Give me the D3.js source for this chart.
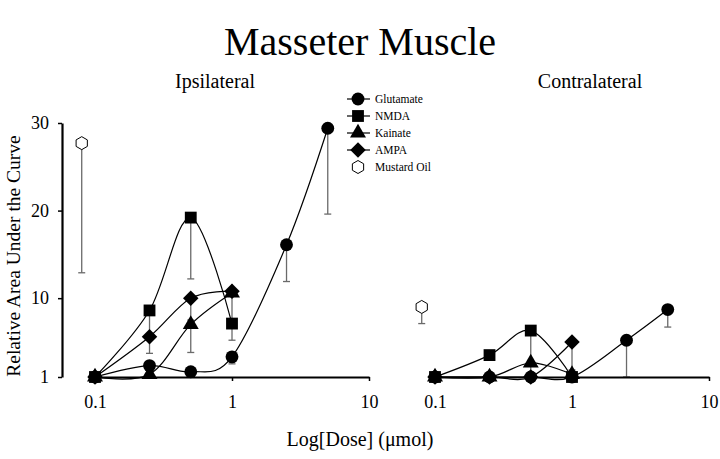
<!DOCTYPE html>
<html>
<head>
<meta charset="utf-8">
<script src="https://cdn.jsdelivr.net/npm/d3@7"></script>
<style>
  body { margin: 0; background: #fff; }
  svg { display: block; font-family: "Liberation Serif", "Times New Roman", serif; }
</style>
</head>
<body>
<svg width="720" height="459"></svg>
<script>
// doses (µmol)
const doses = [0.1, 0.25, 0.5, 1, 2.5, 5];
const oilDose = 0.08;

// ipsilateral means and lower error ends
const glutIpsi = [1, 2.3, 1.6, 3.3, 16.1, 29.4];
const glutIpsiLow = [null, null, null, 2.5, 11.9, 19.6];
const nmdaIpsi = [1, 8.6, 19.2, 7.1];
const nmdaIpsiLow = [null, 5.8, 12.2, 5.2];
const kainIpsi = [1, 1.3, 7.0, 10.6];
const kainIpsiLow = [null, null, 3.8, 7.1];
const ampaIpsi = [1, 5.6, 10.0, 10.8];
const ampaIpsiLow = [null, 3.7, 7.5, null];
const oilIpsi = 27.7, oilIpsiLow = 12.9;

// contralateral
const glutContra = [1, 1, 1, 1, 5.2, 8.7];
const glutContraLow = [null, null, null, null, 1, 6.7];
const nmdaContra = [1, 3.5, 6.3, 1];
const nmdaContraLow = [null, null, 2.5, null];
const kainContra = [1, 1, 2.6, 1.3];
const kainContraLow = [null, null, 1, null];
const ampaContra = [1, 1, 1, 5.0];
const ampaContraLow = [null, null, null, 1.8];
const oilContra = 9.0, oilContraLow = 7.1;

const yTicks = [1, 10, 20, 30];
const xTicks = [0.1, 1, 10];
const legendNames = ["Glutamate", "NMDA", "Kainate", "AMPA", "Mustard Oil"];

const svg = d3.select("svg");

const y = d3.scaleLinear().domain([1, 30]).range([377, 123]);
const xL = d3.scaleLog().domain([0.1, 10]).range([95, 369]);
const xR = d3.scaleLog().domain([0.1, 10]).range([435, 709]);

// marker shapes
const shapes = {
  circle: d3.symbol(d3.symbolCircle, 130),
  square: d3.symbol(d3.symbolSquare, 140),
  triangle: d3.symbol(d3.symbolTriangle, 110),
  diamond: d3.symbol(d3.symbolSquare, 120)
};
function hexPath(r) {
  const pts = d3.range(6).map(i => {
    const a = Math.PI / 6 + i * Math.PI / 3;
    return [r * Math.cos(a), r * Math.sin(a)];
  });
  return "M" + pts.join("L") + "Z";
}

function marker(g, type, cx, cy) {
  if (type === "hex") {
    g.append("path").attr("d", hexPath(6.5))
      .attr("transform", `translate(${cx},${cy})`)
      .attr("fill", "#fff").attr("stroke", "#000").attr("stroke-width", 1);
  } else {
    g.append("path").attr("d", shapes[type]())
      .attr("transform", `translate(${cx},${cy})` + (type === "diamond" ? " rotate(45)" : ""))
      .attr("fill", "#000");
  }
}

const line = (x) => d3.line()
  .x((d, i) => x(doses[i]))
  .y(d => y(d))
  .curve(d3.curveCardinal.tension(0));

function errBar(g, cx, top, lo) {
  g.append("line").attr("x1", cx).attr("x2", cx)
    .attr("y1", y(top)).attr("y2", y(lo))
    .attr("stroke", "#6a6a6a").attr("stroke-width", 1.3);
  g.append("line").attr("x1", cx - 3.5).attr("x2", cx + 3.5)
    .attr("y1", y(lo)).attr("y2", y(lo))
    .attr("stroke", "#6a6a6a").attr("stroke-width", 1.3);
}

function panel(x, series, oil, oilLow) {
  const g = svg.append("g");
  // error bars
  series.forEach(s => {
    s.low.forEach((lo, i) => {
      if (lo != null) errBar(g, x(doses[i]), s.vals[i], lo);
    });
  });
  const ox = x(oilDose);
  errBar(g, ox, oil, oilLow);

  // x axis
  const ax = g.append("g").attr("transform", `translate(0,${y(1)})`)
    .call(d3.axisBottom(x).tickValues(xTicks).tickFormat(d3.format("")).tickSize(4).tickSizeOuter(0).tickPadding(14));
  ax.select(".domain").attr("stroke-width", 2.2);
  ax.selectAll(".tick line").attr("stroke-width", 1.5);
  ax.selectAll("text").attr("font-size", 18).attr("font-family", "Liberation Serif");

  // curves + markers
  series.forEach(s => {
    g.append("path").datum(s.vals).attr("d", line(x))
      .attr("fill", "none").attr("stroke", "#000").attr("stroke-width", 1.2);
  });
  series.forEach(s => {
    s.vals.forEach((v, i) => marker(g, s.shape, x(doses[i]), y(v)));
  });
  marker(g, "hex", ox, y(oil));
}

panel(xL, [
  {vals: ampaIpsi, low: ampaIpsiLow, shape: "diamond"},
  {vals: kainIpsi, low: kainIpsiLow, shape: "triangle"},
  {vals: nmdaIpsi, low: nmdaIpsiLow, shape: "square"},
  {vals: glutIpsi, low: glutIpsiLow, shape: "circle"}
], oilIpsi, oilIpsiLow);

panel(xR, [
  {vals: glutContra, low: glutContraLow, shape: "circle"},
  {vals: kainContra, low: kainContraLow, shape: "triangle"},
  {vals: nmdaContra, low: nmdaContraLow, shape: "square"},
  {vals: ampaContra, low: ampaContraLow, shape: "diamond"}
], oilContra, oilContraLow);

// y axis (left panel only)
const ay = svg.append("g").attr("transform", "translate(62,0)")
  .call(d3.axisLeft(y).tickValues(yTicks).tickSize(4).tickSizeOuter(0).tickPadding(9));
ay.select(".domain").attr("stroke-width", 2.2);
ay.selectAll(".tick line").attr("stroke-width", 1.5);
ay.selectAll("text").attr("font-size", 18).attr("font-family", "Liberation Serif");

// titles
svg.append("text").attr("x", 360).attr("y", 55).attr("text-anchor", "middle")
  .attr("font-size", 40).text("Masseter Muscle");
svg.append("text").attr("x", 215).attr("y", 88).attr("text-anchor", "middle")
  .attr("font-size", 20).text("Ipsilateral");
svg.append("text").attr("x", 590).attr("y", 88).attr("text-anchor", "middle")
  .attr("font-size", 20).text("Contralateral");
svg.append("text").attr("transform", "translate(20,256) rotate(-90)")
  .attr("text-anchor", "middle").attr("font-size", 19.5).text("Relative Area Under the Curve");
svg.append("text").attr("x", 360).attr("y", 446).attr("text-anchor", "middle")
  .attr("font-size", 20).text("Log[Dose] (\u03bcmol)");

// legend
const shapeList = ["circle", "square", "triangle", "diamond", "hex"];
legendNames.forEach((name, i) => {
  const ly = 99 + i * 17;
  const lg = svg.append("g");
  if (i < 4) lg.append("line").attr("x1", 347).attr("x2", 370).attr("y1", ly).attr("y2", ly)
    .attr("stroke", "#000").attr("stroke-width", 1.2);
  marker(lg, shapeList[i], 358, ly);
  lg.append("text").attr("x", 375).attr("y", ly + 4).attr("font-size", 11.5).text(name);
});
</script>
</body>
</html>
